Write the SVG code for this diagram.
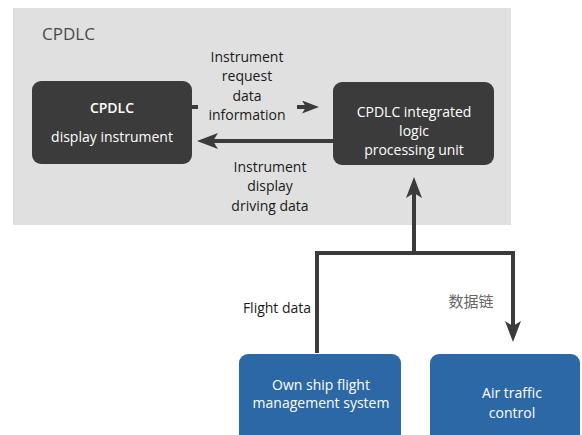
<svg xmlns="http://www.w3.org/2000/svg" width="582" height="435" viewBox="0 0 582 435">
<defs>
<style>
.t{font-family:"Open Sans","Liberation Sans",sans-serif;font-size:14px;text-anchor:middle}
.w{fill:#ffffff}
.k{fill:#1a1a1a}
.dark{fill:#3b3b3b}
.blue{fill:#2c68a6}
.ln{fill:none;stroke:#3b3b3b;stroke-width:4}
</style>
<marker id="ah" markerUnits="userSpaceOnUse" markerWidth="22" markerHeight="18" refX="5" refY="8" orient="auto" viewBox="0 0 22 18">
<path d="M0,0 L21,8 L0,16 L5,8 Z" fill="#3b3b3b"/>
</marker>
<marker id="ahs" markerUnits="userSpaceOnUse" markerWidth="18" markerHeight="14" refX="4" refY="6.5" orient="auto" viewBox="0 0 18 14">
<path d="M0,0 L17,6.5 L0,13 L4,6.5 Z" fill="#3b3b3b"/>
</marker>
</defs>
<rect x="13" y="8" width="498" height="217" fill="#e0e0e0"/>
<text x="42" y="40" font-family="Open Sans, Liberation Sans, sans-serif" font-size="17" fill="#4a4a4a">CPDLC</text>
<g id="connectors">
<path class="ln" d="M192,107 H198 M297,107 H306" marker-end="url(#ahs)"/>
<path class="ln" d="M333,141 H213" marker-end="url(#ah)"/>
<path class="ln" d="M317,353 V253 H513 V326" marker-end="url(#ah)"/>
<path class="ln" d="M414,253 V193" marker-end="url(#ah)"/>
</g>
<g id="lbl-request" class="t k">
<text x="247" y="62">Instrument</text>
<text x="247" y="81">request</text>
<text x="247" y="101">data</text>
<text x="247" y="120">information</text>
</g>
<g id="lbl-driving" class="t k">
<text x="270" y="172">Instrument</text>
<text x="270" y="191">display</text>
<text x="270" y="211">driving data</text>
</g>
<g id="node-display">
<rect class="dark" x="32" y="81" width="160" height="83" rx="9"/>
<text class="t w" x="112" y="113" font-size="15.5" font-weight="600">CPDLC</text>
<text class="t w" x="112" y="142">display instrument</text>
</g>
<g id="node-logic">
<rect class="dark" x="333" y="82" width="161" height="83" rx="9"/>
<text class="t w" x="414" y="117">CPDLC integrated</text>
<text class="t w" x="414" y="136">logic</text>
<text class="t w" x="414" y="155">processing unit</text>
</g>
<text class="t k" x="277" y="313">Flight data</text>
<text x="471" y="307" font-family="Noto Sans CJK SC, sans-serif" font-size="15" fill="#666666" text-anchor="middle">数据链</text>
<g id="node-fms">
<rect class="blue" x="239" y="354" width="162" height="95" rx="9"/>
<text class="t w" x="321" y="390">Own ship flight</text>
<text class="t w" x="321" y="408">management system</text>
</g>
<g id="node-atc">
<rect class="blue" x="430" y="354" width="150" height="95" rx="9"/>
<text class="t w" x="512" y="398">Air traffic</text>
<text class="t w" x="512" y="418">control</text>
</g>
</svg>
